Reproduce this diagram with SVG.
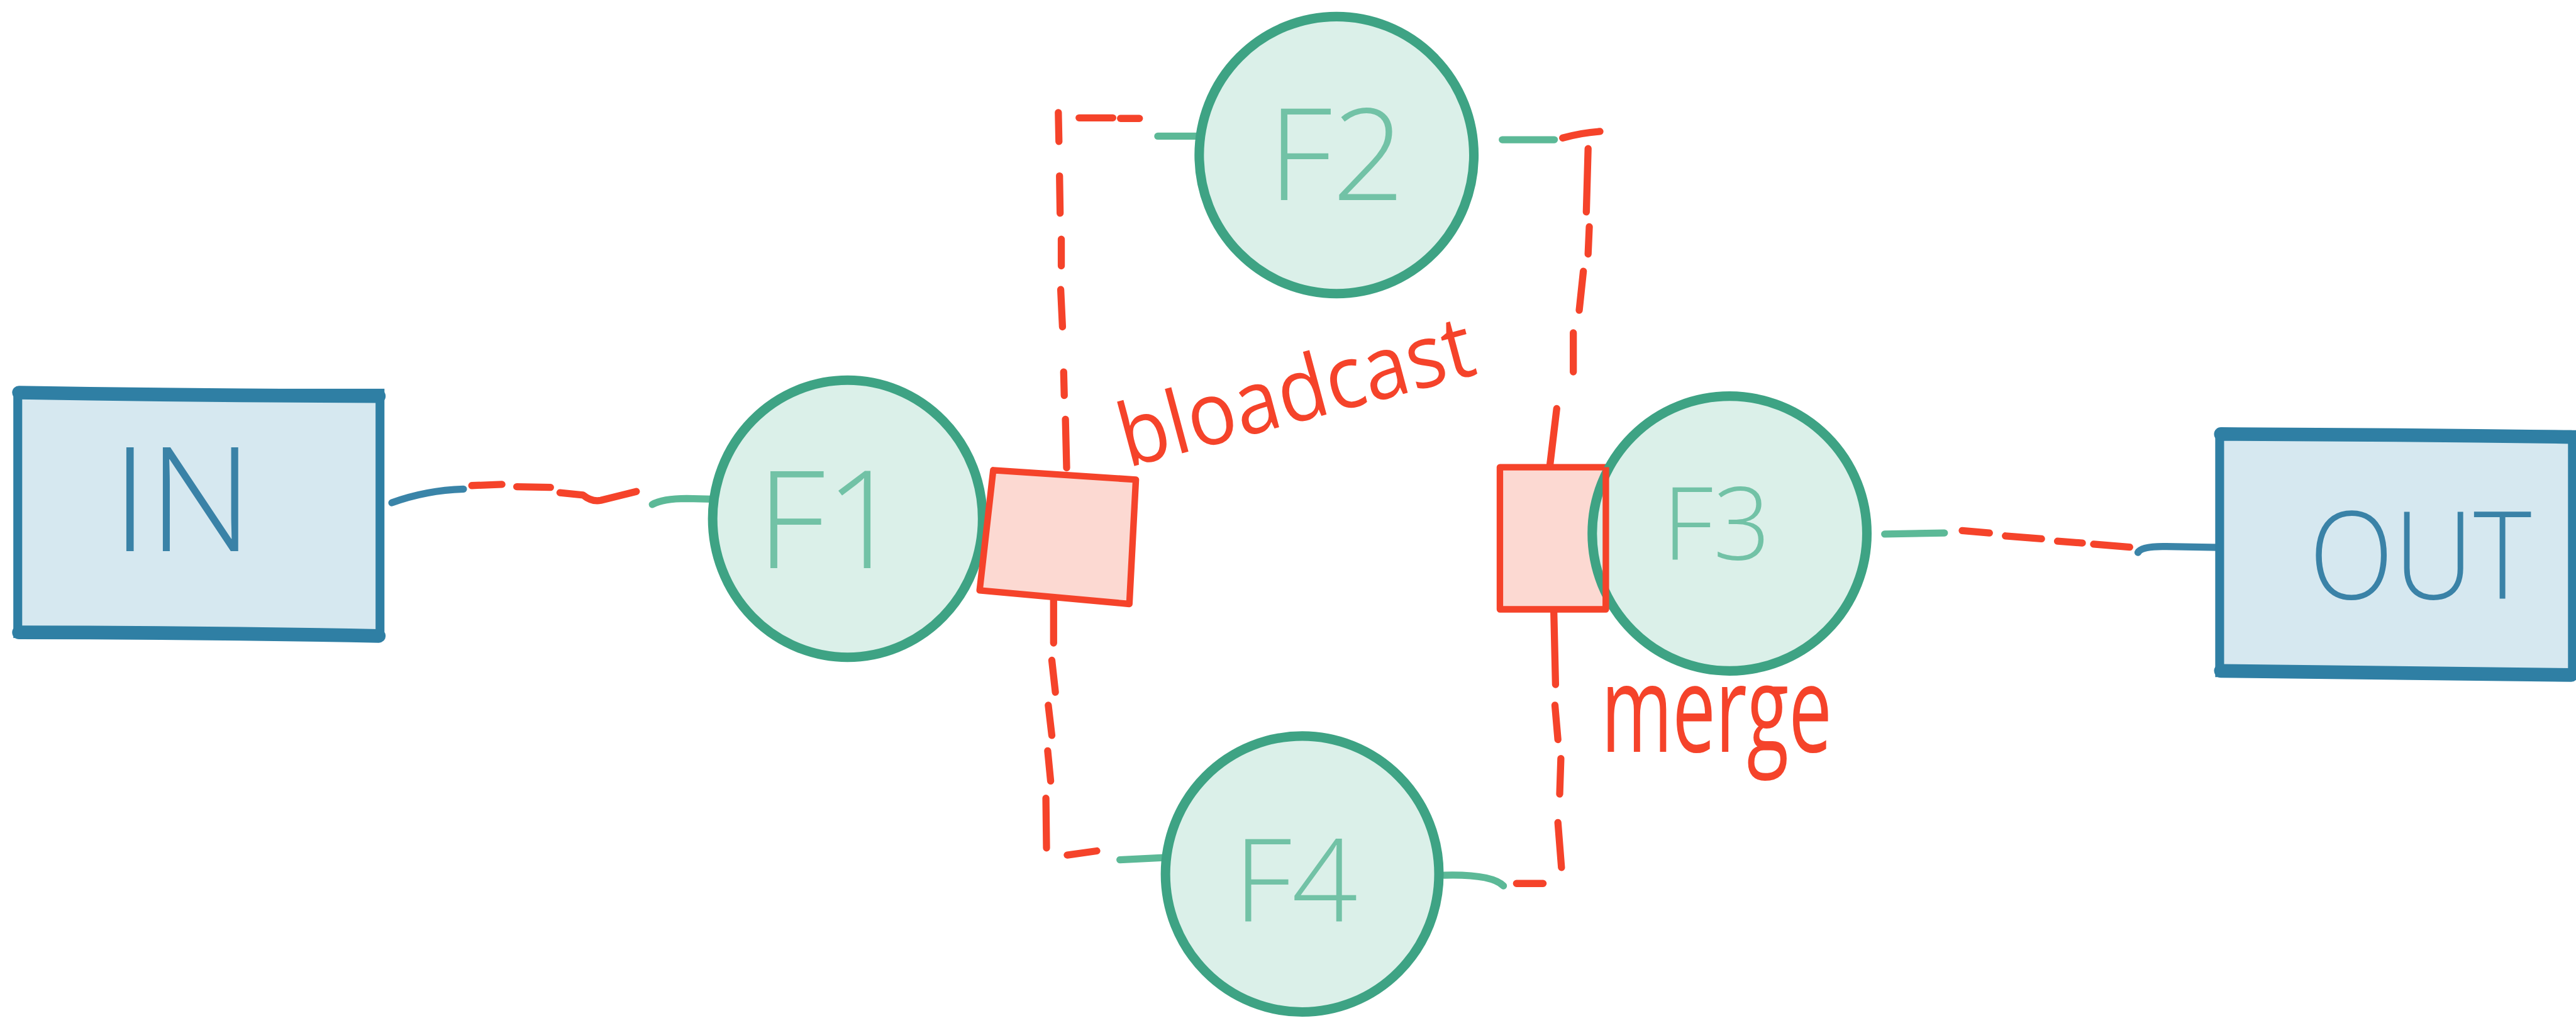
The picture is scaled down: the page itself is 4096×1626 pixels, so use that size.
<svg xmlns="http://www.w3.org/2000/svg" width="4096" height="1626" viewBox="0 0 4096 1626">
  <style>
    .io { fill: #d6e8f0; stroke: #2f7fa4; stroke-width: 15; }
    .io-edge { fill: none; stroke: #2f7fa4; stroke-width: 23; stroke-linecap: round; }
    .fn { fill: #dbf0e9; stroke: #3ea384; stroke-width: 16; }
    .gate { fill: #fcd9d2; stroke: #f5432a; stroke-width: 11; stroke-linejoin: round; }
    .gate-line { fill: none; stroke: #f5432a; stroke-width: 11; stroke-linejoin: round; }
    .lbl-io { fill: #3a82a7; font-family: "Open Sans", "Lato", "Liberation Sans", sans-serif; font-weight: 300; text-anchor: middle; }
    .lbl-fn { fill: #72c2a6; font-family: "Open Sans", "Lato", "Liberation Sans", sans-serif; font-weight: 300; text-anchor: middle; }
    .note { fill: #f5432a; font-family: "Open Sans", "Lato", "Liberation Sans", sans-serif; font-weight: 400; }
    .w-blue { fill: none; stroke: #3a84a8; stroke-width: 12; stroke-linecap: round; }
    .w-green { fill: none; stroke: #5cb997; stroke-width: 12; stroke-linecap: round; }
    .w-red { fill: none; stroke: #f5432a; stroke-width: 12; stroke-linecap: round; stroke-linejoin: round; }
  </style>
  <rect width="4096" height="1626" fill="#ffffff"/>
  <g transform="scale(0.941176)">
    <!-- wiring between the stages -->
    <g id="connectors">
      <!-- IN to F1 -->
      <path class="w-blue" d="M662,849 Q720,828 783,826"/>
      <path class="w-red" d="M797,820 L848,818 M873,822 L930,823 M946,832 L985,836 Q1000,848 1015,845 L1075,830"/>
      <path class="w-green" d="M1102,852 Q1120,842 1160,842 L1205,843"/>
      <!-- broadcast up to F2 -->
      <path class="w-red" d="M1802,790 L1800,708 M1798,668 L1797,628 M1795,552 L1792,489 M1793,449 L1793,404 M1791,360 L1790,297 M1789,239 L1788,190 M1823,199 L1880,199 M1893,200 L1925,200"/>
      <path class="w-green" d="M1956,230 L2030,230"/>
      <!-- F2 down to merge -->
      <path class="w-green" d="M2538,236 L2626,236"/>
      <path class="w-red" d="M2640,233 Q2672,224 2703,222 M2683,251 L2680,358 M2685,383 L2683,429 M2675,458 L2668,524 M2658,562 L2658,628 M2630,690 L2618,790"/>
      <!-- broadcast down to F4 -->
      <path class="w-red" d="M1780,1005 L1780,1086 M1777,1115 L1783,1169 M1771,1191 L1777,1242 M1770,1268 L1775,1319 M1767,1348 L1768,1432 M1803,1444 L1853,1437"/>
      <path class="w-green" d="M1892,1452 L1972,1448"/>
      <!-- F4 up to merge -->
      <path class="w-green" d="M2440,1478 Q2520,1476 2540,1496"/>
      <path class="w-red" d="M2625,1029 L2628,1156 M2627,1191 L2632,1249 M2637,1281 L2635,1341 M2632,1389 L2638,1465 M2562,1492 L2607,1492"/>
      <!-- F3 to OUT -->
      <path class="w-green" d="M3184,902 L3285,900"/>
      <path class="w-red" d="M3315,896 L3361,900 M3388,905 L3449,910 M3476,914 L3518,917 M3537,919 L3598,924"/>
      <path class="w-blue" d="M3612,933 Q3618,922 3660,923 L3780,925"/>
    </g>

    <g id="node-in">
      <rect class="io" x="30" y="664" width="612" height="406"/>
      <path class="io-edge" d="M32,663 Q330,668 640,669 M32,1068 Q330,1068 640,1074"/>
      <text class="lbl-io" x="308" y="931" font-size="245">IN</text>
    </g>

    <g id="node-f1">
      <ellipse class="fn" cx="1432" cy="876" rx="228" ry="234"/>
      <text class="lbl-fn" x="1402" y="959" font-size="230">F1</text>
    </g>

    <g id="node-broadcast">
      <polygon class="gate" points="1678,794 1919,810 1908,1020 1655,997"/>
      <text class="note" x="1905" y="790" font-size="148" textLength="615" lengthAdjust="spacingAndGlyphs" transform="rotate(-15 1905 790)">bloadcast</text>
    </g>

    <g id="node-f2">
      <ellipse class="fn" cx="2258" cy="262" rx="232" ry="234"/>
      <text class="lbl-fn" x="2258" y="338" font-size="215">F2</text>
    </g>

    <g id="node-f4">
      <ellipse class="fn" cx="2200" cy="1476" rx="231" ry="233"/>
      <text class="lbl-fn" x="2189" y="1556" font-size="195">F4</text>
    </g>

    <g id="node-merge">
      <rect class="gate" x="2534" y="789" width="179" height="240"/>
    </g>

    <g id="node-f3">
      <ellipse class="fn" cx="2922" cy="901" rx="232" ry="232"/>
      <line class="gate-line" x1="2713" y1="789" x2="2713" y2="1029"/>
      <text class="lbl-fn" x="2900" y="945" font-size="170">F3</text>
    </g>

    <text id="label-merge" class="note" x="2705" y="1270" font-size="205" textLength="390" lengthAdjust="spacingAndGlyphs">merge</text>

    <g id="node-out">
      <rect class="io" x="3750" y="734" width="596" height="402"/>
      <path class="io-edge" d="M3752,733 Q4050,734 4344,738 M3752,1133 Q4050,1136 4344,1140"/>
      <text class="lbl-io" x="4089" y="1012" font-size="205" textLength="376" lengthAdjust="spacingAndGlyphs">OUT</text>
    </g>
  </g>
</svg>
